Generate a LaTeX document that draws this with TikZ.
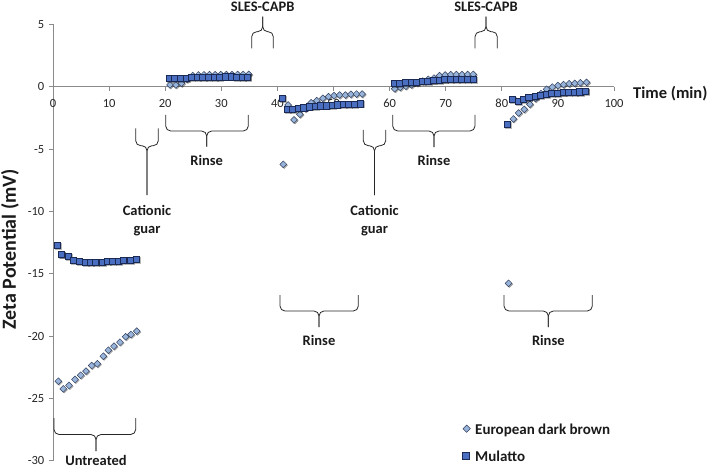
\documentclass[tikz,border=0pt]{standalone}
\usepackage{fontspec}
\setmainfont{Carlito}
\usetikzlibrary{plotmarks}
\definecolor{mulfill}{HTML}{4A6EC0}
\definecolor{muldraw}{HTML}{1B2A55}
\definecolor{eurfill}{HTML}{98B4DA}
\definecolor{eurdraw}{HTML}{34425E}
\definecolor{axgray}{HTML}{8A8A8A}
\definecolor{txt}{HTML}{1A1A1A}
\newcommand\mybrace[6]{%
  \draw[bracestyle] (#1,#4) -- (#1,#5) -- (#2,#5) -- (#2,#6);
  \draw[bracestyle] (#3,#4) -- (#3,#5) -- (#2,#5) -- (#2,#6);}
\begin{document}
\begin{tikzpicture}[x=1pt,y=-1pt,
  lab/.style={font=\fontsize{14.5}{17}\selectfont\bfseries, text=txt, inner sep=0pt, anchor=base},
  ticklab/.style={font=\fontsize{12.5}{14}\selectfont, text=black!85, inner sep=0pt},
  axisline/.style={draw=axgray, line width=0.9pt},
  bracestyle/.style={draw=black!85, line width=0.8pt, rounded corners=5pt},
  sqmark/.style={only marks, mark=square*, mark size=3.05pt,
     mark options={fill=mulfill, draw=muldraw, line width=0.5pt}},
  dmmark/.style={only marks, mark=square*, mark size=2.4pt,
     mark options={rotate=45, fill=eurfill, draw=eurdraw, line width=0.5pt}},
  sqshadow/.style={only marks, mark=square*, mark size=3.05pt,
     mark options={fill=black, draw=none, opacity=0.28}},
  dmshadow/.style={only marks, mark=square*, mark size=2.4pt,
     mark options={rotate=45, fill=black, draw=none, opacity=0.28}}
]
\useasboundingbox (0,0) rectangle (709,468);

% axes
\draw[axisline] (53,24.5) -- (53,460.6);
\foreach \v [count=\i] in {5,0,-5,...,-30} {
  \draw[axisline] (49,{86.8-12.46*\v}) -- (53,{86.8-12.46*\v});
  \node[ticklab, anchor=east] (yt\i) at (44.5,{86.8-12.46*\v}) {\v};
}
\draw[axisline] (53,86.8) -- (614,86.8);
\foreach \t [count=\i] in {0,10,...,100} {
  \draw[axisline] ({53+5.61*\t},86.8) -- ({53+5.61*\t},91.3);
  \node[ticklab, anchor=base] (xt\i) at ({53+5.61*\t},107.5) {\t};
}
\node[font=\fontsize{16.5}{19}\selectfont\bfseries, text=txt, inner sep=0pt, anchor=base west] (xlab) at (633,99) {Time (min)};
\node[font=\fontsize{20}{22}\selectfont\bfseries, text=txt, inner sep=0pt, anchor=base, rotate=90] (ylab) at (16,249.5) {Zeta Potential (mV)};

% braces
\mybrace{54}{96}{135.7}{418}{434.5}{451}
\mybrace{165.7}{206.7}{248.3}{115}{131}{146.7}
\mybrace{135.7}{147}{158.3}{128.5}{145.7}{195}
\mybrace{251.7}{262.7}{273.3}{48.3}{31.7}{16.7}
\mybrace{280}{319}{358.3}{295}{311}{327}
\mybrace{363.3}{374.5}{385.7}{130}{145.7}{195}
\mybrace{392.7}{434}{475}{115}{131}{147}
\mybrace{475}{486}{497.3}{48.3}{31.7}{16.7}
\mybrace{504}{548.3}{592.3}{295}{311}{327}

% labels
\node[lab] (untr) at (96,465) {Untreated};
\node[lab] (rin1) at (206.7,165.7) {Rinse};
\node[lab] (rin2) at (319,345.5) {Rinse};
\node[lab] (rin3) at (434,165.7) {Rinse};
\node[lab] (rin4) at (548.3,345.5) {Rinse};
\node[lab] (cat1) at (147,215) {Cationic};
\node[lab] (gua1) at (147,233) {guar};
\node[lab] (cat2) at (374.5,215) {Cationic};
\node[lab] (gua2) at (374.5,233) {guar};
\node[lab] (sle1) at (262.7,11.5) {SLES-CAPB};
\node[lab] (sle2) at (486,11.5) {SLES-CAPB};

% data
\def\eurdata{(0.94,-23.63) (1.84,-24.24) (2.85,-23.97) (3.92,-23.49) (4.94,-23.15) (5.88,-22.82) (6.9,-22.37) (7.9,-22.23) (8.97,-21.62) (9.86,-21.14) (10.87,-20.82) (11.94,-20.5) (12.96,-20.06) (13.9,-19.88) (14.92,-19.61)
 (20.86,0.15) (21.9,0.15) (22.9,0.28) (23.9,0.6) (24.9,0.9) (25.9,0.95) (26.9,0.96) (27.9,0.97) (28.9,0.97) (29.9,0.98) (30.9,0.98) (31.9,0.98) (32.9,0.99) (33.9,0.99) (34.9,1.0)
 (41.05,-6.22) (41.9,-1.46) (42.96,-2.65) (44.0,-2.2) (45.0,-1.75) (46.0,-1.28) (47.0,-1.11) (48.1,-0.92) (49.1,-0.79) (50.1,-0.71) (51.1,-0.66) (52.1,-0.66) (53.1,-0.6) (54.1,-0.58) (55.1,-0.58)
 (60.9,-0.15) (61.9,-0.05) (62.9,0.05) (63.9,0.15) (64.9,0.3) (65.9,0.45) (66.9,0.6) (67.9,0.7) (68.9,0.9) (69.9,0.95) (70.9,0.97) (71.9,0.98) (72.9,0.98) (73.9,0.99) (74.9,1.0)
 (81.2,-15.77) (82.05,-2.58) (83.0,-2.1) (84.0,-1.81) (85.0,-1.4) (86.0,-0.95) (87.0,-0.55) (88.0,-0.2) (89.0,-0.02) (90.0,0.1) (91.0,0.18) (92.0,0.24) (93.0,0.28) (94.0,0.32) (95.1,0.36)}
\def\muldata{(0.77,-12.74) (1.55,-13.47) (2.73,-13.6) (3.62,-13.9) (4.63,-14.0) (5.7,-14.05) (6.6,-14.08) (7.6,-14.1) (8.7,-14.1) (9.7,-14.0) (10.6,-14.0) (11.6,-14.0) (12.6,-13.94) (13.7,-13.9) (14.8,-13.84)
 (20.7,0.72) (21.7,0.72) (22.7,0.72) (23.7,0.72) (24.7,0.79) (25.7,0.79) (26.7,0.8) (27.7,0.8) (28.7,0.8) (29.7,0.8) (30.7,0.81) (31.7,0.81) (32.7,0.8) (33.7,0.8) (34.7,0.8)
 (40.9,-0.92) (41.7,-1.81) (42.7,-1.81) (43.7,-1.73) (44.7,-1.68) (45.7,-1.6) (46.7,-1.54) (47.7,-1.52) (48.7,-1.52) (49.7,-1.46) (50.7,-1.44) (51.7,-1.4) (52.7,-1.38) (53.7,-1.38) (54.8,-1.36)
 (60.8,0.28) (61.8,0.3) (62.8,0.33) (63.8,0.36) (64.8,0.4) (65.8,0.43) (66.8,0.47) (67.8,0.5) (68.8,0.55) (69.8,0.58) (70.8,0.6) (71.8,0.6) (72.8,0.6) (73.8,0.6) (74.9,0.6)
 (80.9,-3.01) (81.9,-0.98) (82.9,-1.14) (83.8,-1.0) (84.8,-0.87) (85.9,-0.75) (86.9,-0.65) (87.9,-0.58) (88.9,-0.52) (89.9,-0.5) (90.9,-0.47) (91.9,-0.45) (92.9,-0.42) (93.9,-0.4) (94.95,-0.34)}
\begin{scope}[shift={(53,86.8)}, x=5.61pt, y=12.46pt]
  \begin{scope}[xshift=0.9pt, yshift=-0.9pt]
    \path plot[dmshadow] coordinates {\eurdata};
  \end{scope}
  \path plot[dmmark] coordinates {\eurdata};
  \begin{scope}[xshift=0.9pt, yshift=-0.9pt]
    \path plot[sqshadow] coordinates {\muldata};
  \end{scope}
  \path plot[sqmark] coordinates {\muldata};
\end{scope}

% legend
\path plot[dmmark, mark size=2.6pt] coordinates {(466.7,428.7)};
\path plot[sqmark, mark size=3.6pt] coordinates {(466,456)};
\node[font=\fontsize{15}{17}\selectfont\bfseries, text=txt, inner sep=0pt, anchor=base west] (leg1) at (475,434) {European dark brown};
\node[font=\fontsize{15}{17}\selectfont\bfseries, text=txt, inner sep=0pt, anchor=base west] (leg2) at (475,461.7) {Mulatto};
\end{tikzpicture}
\end{document}
